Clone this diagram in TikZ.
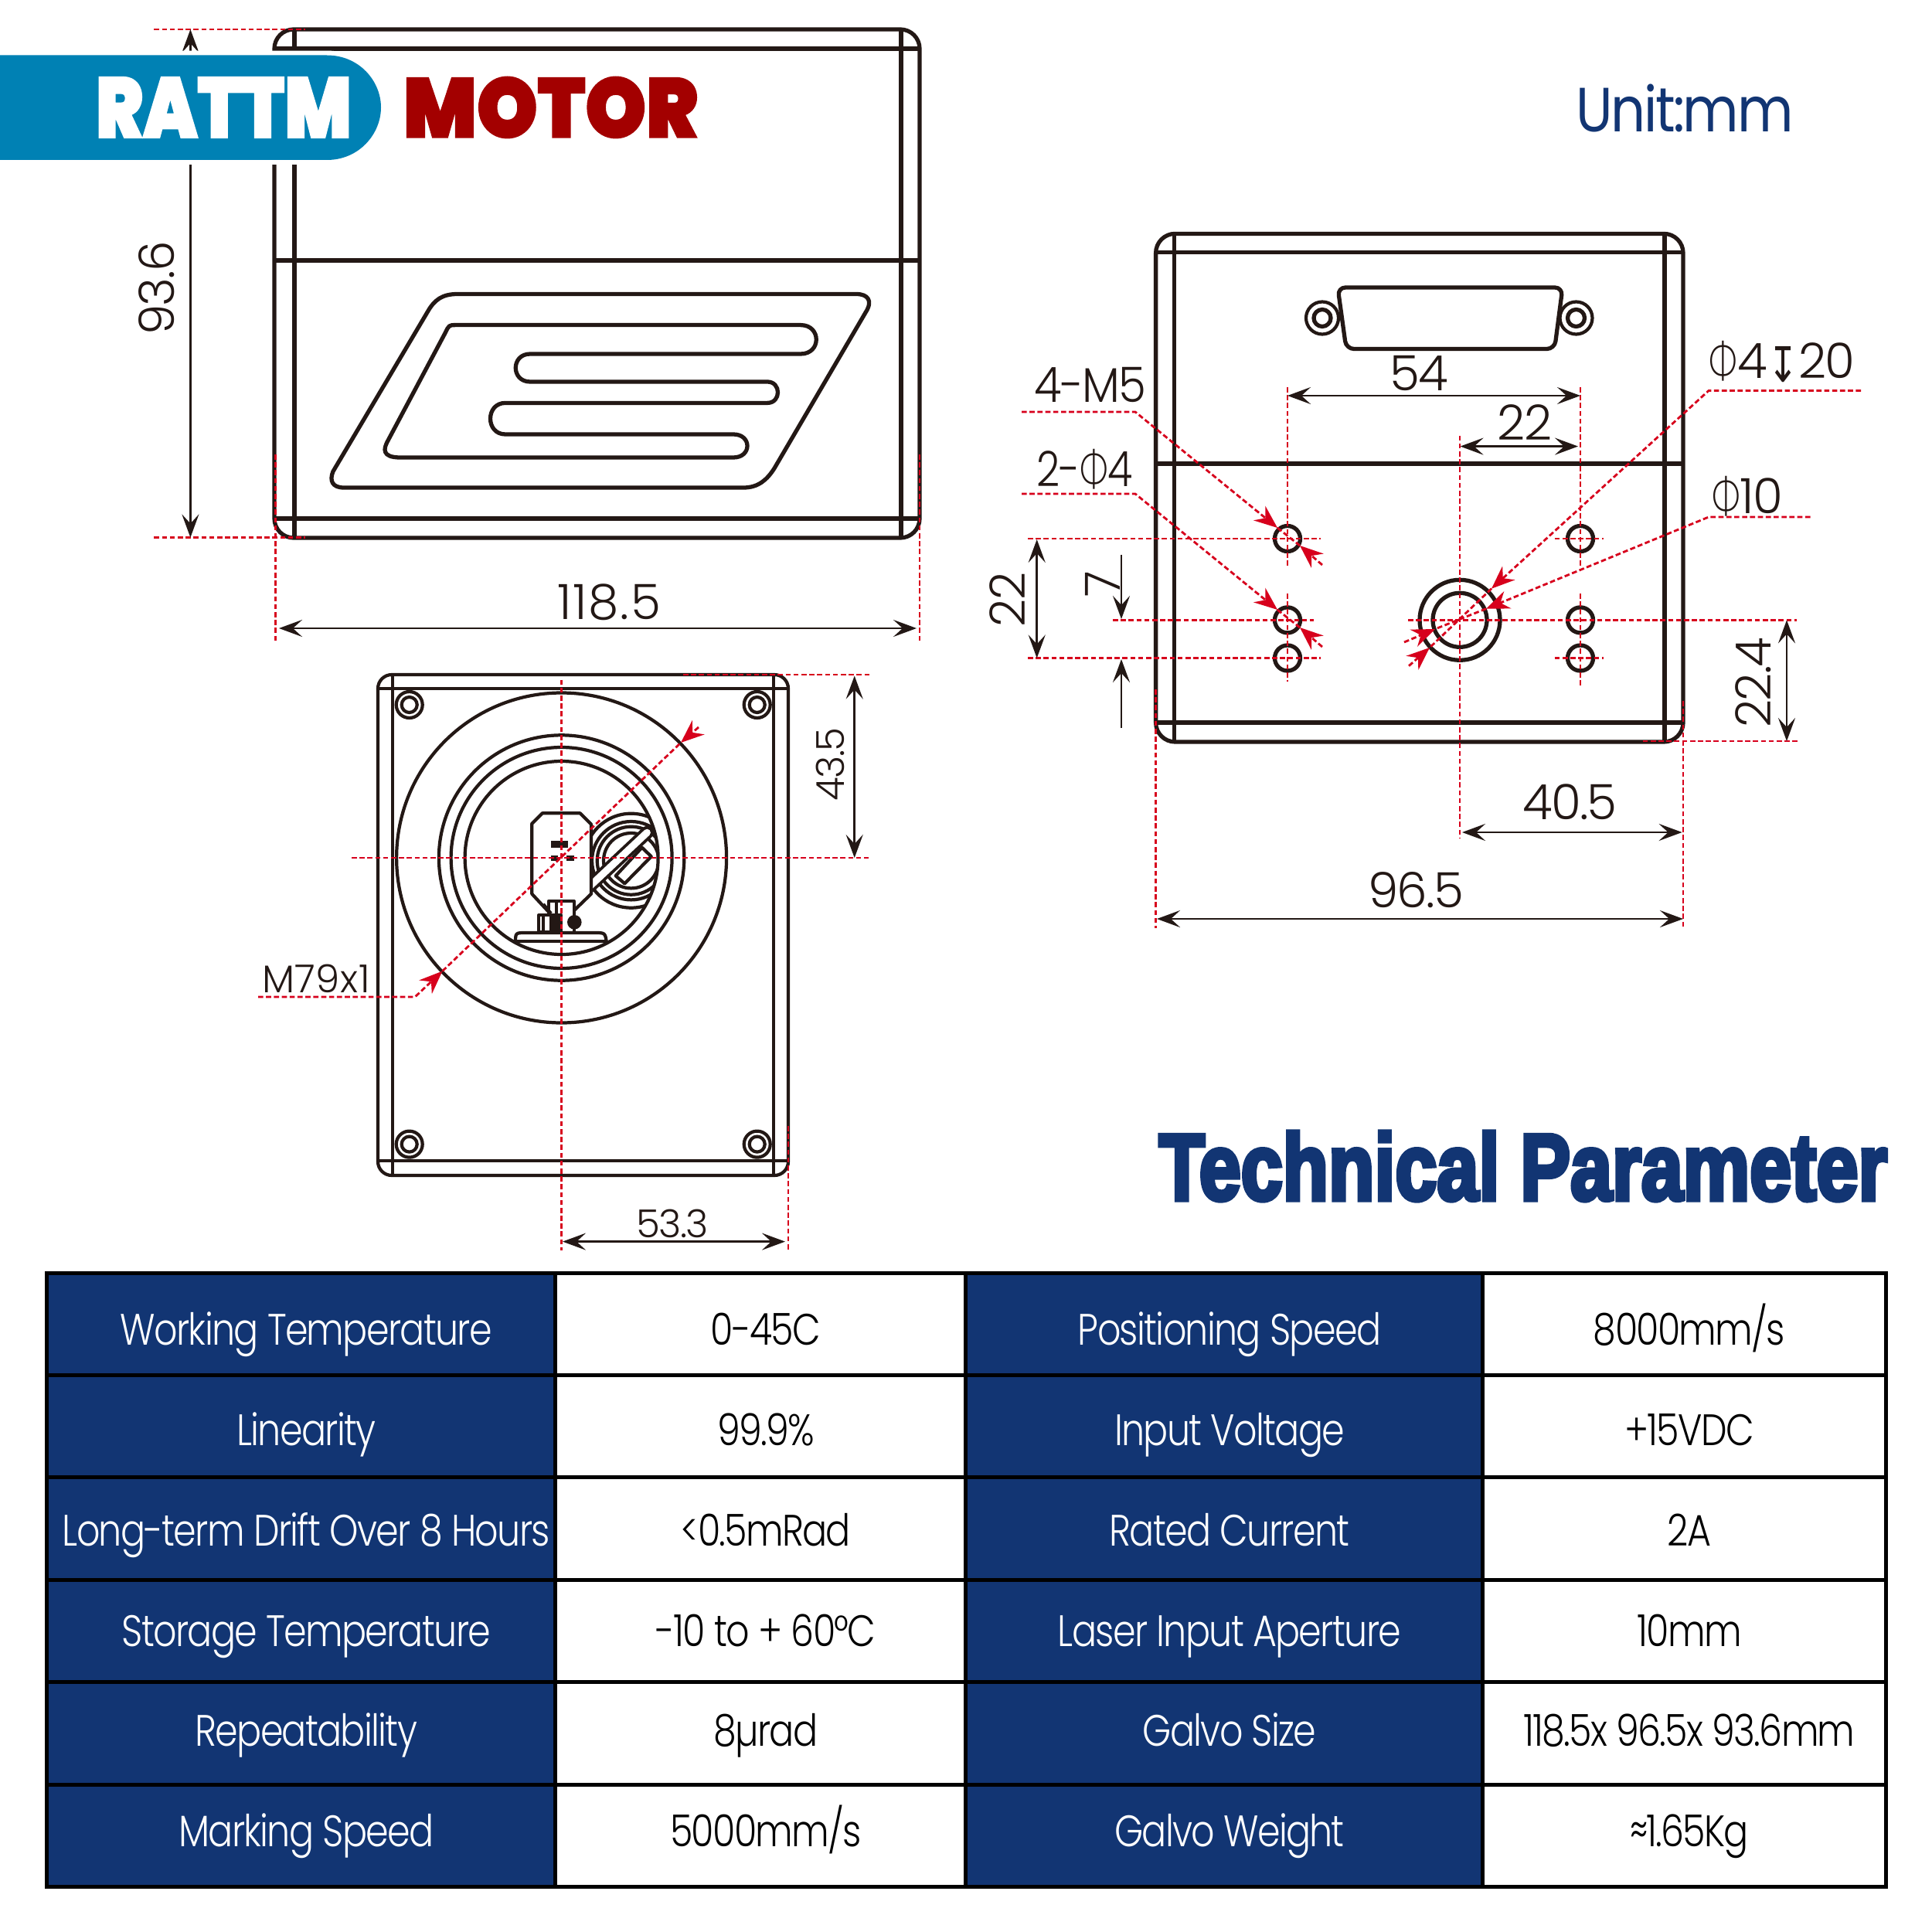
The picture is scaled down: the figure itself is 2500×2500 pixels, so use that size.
\documentclass[tikz,border=0pt]{standalone}
\usepackage{fontspec}
\usepackage{graphicx}
\usetikzlibrary{arrows.meta}
\newfontfamily\bodyfont[LetterSpace=-3,FakeStretch=0.835]{Poppins Light}
\newfontfamily\labelfont[LetterSpace=-3,FakeStretch=0.92]{Poppins Light}
\newfontfamily\dimfont[LetterSpace=-3]{Poppins Light}
\newfontfamily\unitfont[LetterSpace=-3,FakeStretch=0.87]{Poppins}
\newfontfamily\phifont[FakeStretch=0.72]{Lato Light}
\newfontfamily\symfont{DejaVu Sans}
\newfontfamily\logofont[FakeBold=2]{Poppins Black}
\newfontfamily\titlefont[BoldFeatures={FakeBold=5}]{Liberation Sans}
\definecolor{inkline}{HTML}{231815}
\definecolor{cutred}{HTML}{D7001C}
\definecolor{navycell}{HTML}{123573}
\definecolor{logoblue}{HTML}{0081B4}
\definecolor{logomaroon}{HTML}{A30000}
\begin{document}
\begin{tikzpicture}[
    x=0.01cm, y=-0.01cm,
    % Style for the housing outlines
    outline/.style={draw=inkline, line width=1.5pt, line join=round},
    lensline/.style={draw=inkline, line width=1.2pt, line join=round},
    % Style for the dimension arrows and the red centre lines
    dimline/.style={draw=inkline, line width=0.8pt, {Stealth[length=0.3cm,width=0.22cm,inset=0.12cm]}-{Stealth[length=0.3cm,width=0.22cm,inset=0.12cm]}},
    dimstop/.style={draw=inkline, line width=0.8pt, -{Stealth[length=0.3cm,width=0.22cm,inset=0.12cm]}},
    cutline/.style={draw=cutred, line width=0.8pt, dash pattern=on 1.9pt off 1pt},
    cutstop/.style={cutline, -{Stealth[length=0.3cm,width=0.24cm,inset=0.1cm]}},
    % Style for the texts
    dimtext/.style={inner sep=0pt, text=inkline, font=\dimfont\fontsize{17.9}{20}\selectfont},
    dimsmall/.style={inner sep=0pt, text=inkline, font=\dimfont\fontsize{14.2}{16}\selectfont},
    % Style for the table
    tablecell/.style={draw=black, line width=1.4pt, inner sep=0pt, outer sep=0pt, minimum height=1.325cm,
        text depth=0pt, font=\bodyfont\fontsize{16.2}{18}\selectfont,
        execute at begin node={\kern0.13cm}},
    headcell/.style={tablecell, fill=navycell, text=white},
    valuecell/.style={tablecell, fill=white, text=black},
    colA/.style={minimum width=6.585cm},
    colB/.style={minimum width=5.31cm},
    colC/.style={minimum width=6.69cm},
    colD/.style={minimum width=5.21cm},
    rowA/.style={text height=0.53cm},
    rowB/.style={text height=0.49cm},
    rowC/.style={text height=0.44cm},
    rowD/.style={text height=0.39cm},
    rowE/.style={text height=0.332cm},
    rowF/.style={text height=0.28cm}
]
    \useasboundingbox (0,0) rectangle (2500,2500);
    \fill[white] (0,0) rectangle (2500,2500);

    % --- 1. Front view ---
    \draw[outline, rounded corners=0.25cm] (355,38) rectangle (1190,696);
    \draw[outline] (381,38) -- (381,696);
    \draw[outline] (1166,38) -- (1166,696);
    \draw[outline] (355,63) -- (1190,63);
    \draw[outline] (355,337) -- (1190,337);
    \draw[outline] (355,671) -- (1190,671);
    % Emblem
    \draw[outline] (592,380.5) -- (1108,380.5) .. controls (1124,380.5) and (1128,390) .. (1122,401) -- (1002,606)
        .. controls (993,620) and (982,631) .. (962,631) -- (445,631) .. controls (430,631) and (426,622) .. (431,610)
        -- (553,404) .. controls (562,388) and (572,380.5) .. (592,380.5) -- cycle;
    \draw[outline] (590,420.6) -- (1036,420.6) .. controls (1063,420.6) and (1063,458) .. (1036,458)
        -- (686,458) .. controls (661,458) and (661,494) .. (686,494)
        -- (993,494) .. controls (1011,494) and (1011,521.4) .. (993,521.4)
        -- (654,521.4) .. controls (628,521.4) and (628,562) .. (654,562)
        -- (949,562) .. controls (973,562) and (973,592) .. (949,592)
        -- (518,592) .. controls (493,592) and (497,580) .. (501,572)
        -- (576,431) .. controls (581,420.6) .. (590,420.6) -- cycle;

    \coordinate (fronttop) at (246.4,38);
    \coordinate (frontbtm) at (246.4,695.5);
    \coordinate (frontleft) at (361,813);
    \coordinate (frontright) at (1186,813);
    \draw[cutline] (199.4,38) -- (394.7,38);
    \draw[cutline] (199.4,695.5) -- (394.7,695.5);
    \draw[cutline] (356.5,588) -- (356.5,832);
    \draw[cutline] (1190,588) -- (1190,832);
    \draw[dimline] (fronttop) -- (frontbtm);
    \draw[dimline] (frontleft) -- (frontright);
    \node[dimtext, rotate=90] (height label) at (202.5,373) {93.6};
    \node[dimtext] (width label) at (788,779.4) {\addfontfeature{LetterSpace=3}118.5};

    % --- 2. Logo ---
    \fill[logoblue, preaction={draw=white, line width=3.4pt}] (-20,71.5) -- (423,71.5)
        .. controls (465,71.5) and (493,105) .. (493,139) .. controls (493,173) and (465,207) .. (423,207)
        -- (-20,207) -- cycle;
    \node[inner sep=0pt, text=white] (rattm) at (289.5,139) {\resizebox{3.31cm}{0.78cm}{\logofont RATTM}};
    \node[inner sep=0pt, text=logomaroon] (motor) at (712.5,139) {\resizebox{3.81cm}{0.78cm}{\logofont MOTOR}};

    % --- 3. Unit and title ---
    \node[inner sep=0pt, text=navycell, font=\unitfont\fontsize{23}{26}\selectfont] (unit) at (2180,140) {Unit:mm};
    \node[inner sep=0pt, text=navycell] (title) at (1971,1509) {\resizebox{9.42cm}{0.88cm}{\titlefont\bfseries Technical Parameter}};

    % --- 4. Rear view ---
    \draw[outline, rounded corners=0.25cm] (1495.6,302.4) rectangle (2178,960);
    \draw[outline] (1519.5,302.4) -- (1519.5,960);
    \draw[outline] (2154,302.4) -- (2154,960);
    \draw[outline] (1495.6,326.7) -- (2178,326.7);
    \draw[outline] (1495.6,600) -- (2178,600);
    \draw[outline] (1495.6,935) -- (2178,935);
    % Connector and its screws
    \foreach \sx in {1711,2039.5} {
        \draw[lensline] (\sx,411.5) circle[radius=21];
        \draw[outline] (\sx,411.5) circle[radius=11];
    }
    \draw[outline, fill=white, rounded corners=0.1cm] (1731,372) -- (2022,372) -- (2011.6,451.5) -- (1742,451.5) -- cycle;
    % Holes
    \foreach \hx in {1666,2045} {
        \draw[outline] (\hx,697) circle[radius=16.5];
        \draw[outline] (\hx,802.4) circle[radius=16.5];
        \draw[outline] (\hx,851.5) circle[radius=16.5];
    }
    \draw[outline] (1889,802.3) circle[radius=52];
    \draw[outline] (1889,802.3) circle[radius=35];

    % Centre lines
    \draw[cutline] (1666,501) -- (1666,731.5);
    \draw[cutline] (1666,768) -- (1666,882);
    \draw[cutline] (2045,501) -- (2045,731.5);
    \draw[cutline] (2045,768) -- (2045,889);
    \draw[cutline] (1889,563.6) -- (1889,1085);
    \draw[cutline] (1330,697) -- (1708.5,697);
    \draw[cutline] (2011.6,697) -- (2075,697);
    \draw[cutline] (1440,802.4) -- (1700,802.4);
    \draw[cutline] (1822,802.4) -- (2325,802.4);
    \draw[cutline] (1330,851.5) -- (1708.5,851.5);
    \draw[cutline] (2011.6,851.5) -- (2075,851.5);
    \draw[cutline] (2125.6,959) -- (2326.6,959);
    \draw[cutline] (1495.6,892) -- (1495.6,1201);
    \draw[cutline] (2178,907) -- (2178,1201);

    % Leaders
    \coordinate (mfive tip) at (1653,683);
    \coordinate (mfive end) at (1711,731);
    \coordinate (mfive back) at (1682,706);
    \coordinate (pfour tip) at (1653,789);
    \coordinate (pfour end) at (1711,837);
    \coordinate (pfour back) at (1682,812);
    \coordinate (depth tip) at (1930,761.7);
    \coordinate (depth end) at (1823,861.7);
    \coordinate (depth back) at (1850,838);
    \coordinate (bore tip) at (1923,787.7);
    \coordinate (bore end) at (1817,831);
    \coordinate (bore back) at (1857,814);
    \draw[cutstop] (1322,533) -- (1469,533) -- (mfive tip);
    \draw[cutline] (mfive tip) -- (mfive back);
    \draw[cutstop] (mfive end) -- (mfive back);
    \draw[cutstop] (1322,639) -- (1469,639) -- (pfour tip);
    \draw[cutline] (pfour tip) -- (pfour back);
    \draw[cutstop] (pfour end) -- (pfour back);
    \draw[cutstop] (2408,505.5) -- (2211,505.5) -- (depth tip);
    \draw[cutline] (depth tip) -- (depth back);
    \draw[cutstop] (depth end) -- (depth back);
    \draw[cutstop] (2342.5,669) -- (2211,669) -- (bore tip);
    \draw[cutline] (bore tip) -- (bore back);
    \draw[cutstop] (bore end) -- (bore back);

    % Dimensions
    \coordinate (hole left) at (1666,512);
    \coordinate (hole right) at (2045,512);
    \coordinate (bore top) at (1889.5,577.6);
    \coordinate (bore right) at (2042,577.6);
    \coordinate (rear a) at (1341.7,698);
    \coordinate (rear b) at (1341.7,851.5);
    \coordinate (seven top) at (1451,717.6);
    \coordinate (seven tip) at (1451,801);
    \coordinate (seven btm) at (1451,942);
    \coordinate (seven low) at (1451,853);
    \coordinate (side top) at (2312,802.4);
    \coordinate (side btm) at (2312,959);
    \coordinate (bore low) at (1892,1077);
    \coordinate (edge low) at (2176.6,1077);
    \coordinate (rear left) at (1497,1189);
    \coordinate (rear right) at (2178,1189);
    \draw[dimline] (hole left) -- (hole right);
    \draw[dimline] (bore top) -- (bore right);
    \draw[dimline] (rear a) -- (rear b);
    \draw[dimstop] (seven top) -- (seven tip);
    \draw[dimstop] (seven btm) -- (seven low);
    \draw[dimline] (side top) -- (side btm);
    \draw[dimline] (bore low) -- (edge low);
    \draw[dimline] (rear left) -- (rear right);
    \node[dimtext] (fifty four) at (1836,483) {54};
    \node[dimtext] (twenty two) at (1973,547) {22};
    \node[dimtext, rotate=90] (rear span) at (1304,776) {22};
    \node[dimtext, rotate=90] (seven) at (1427,756) {7};
    \node[dimtext, rotate=90] (side span) at (2269,883) {22.4};
    \node[dimtext] (bore span) at (2031.5,1037.6) {40.5};
    \node[dimtext] (rear width) at (1832,1151.5) {96.5};
    \node[dimtext] (mfive label) at (1411,498) {\labelfont 4-M5};
    \node[dimtext] (pfour label) at (1404,607) {\bodyfont 2-{\phifont Φ}4};
    \node[dimtext] (depth label) at (2306,468) {{\phifont Φ}4\raisebox{-0.05cm}{\resizebox{0.4cm}{0.46cm}{\symfont ↧}}20};
    \node[dimtext] (bore label) at (2261,642) {{\phifont Φ}10};

    % --- 5. Lens view ---
    \draw[lensline, rounded corners=0.18cm] (489,873) rectangle (1020,1521);
    \draw[lensline] (507.8,873) -- (507.8,1521);
    \draw[lensline] (1001,873) -- (1001,1521);
    \draw[lensline] (489,891) -- (1020,891);
    \draw[lensline] (489,1502) -- (1020,1502);
    \foreach \sx/\sy in {529.7/912, 979.7/912, 529.7/1480.6, 979.7/1480.6} {
        \draw[lensline] (\sx,\sy) circle[radius=17];
        \draw[lensline] (\sx,\sy) circle[radius=10];
    }
    \coordinate (lens) at (726.6,1110);
    \foreach \lr in {213.5,158.7,143,125} {
        \draw[lensline] (lens) circle[radius=\lr];
    }
    % Mirror parts seen through the lens
    \begin{scope}
        \clip (lens) circle[radius=125];
        \draw[lensline] (816.7,1113.7) circle[radius=61];
        \draw[lensline] (816.7,1113.7) circle[radius=50.7];
        \draw[lensline] (816.7,1113.7) circle[radius=44];
        \draw[lensline] (816.7,1113.7) circle[radius=35.7];
        \draw[lensline, fill=white] (796.7,1133.3) -- (808.3,1143.3) -- (842.7,1108.3) -- (830.7,1096.7) -- cycle;
        \draw[inkline, line width=4.8pt, line cap=round] (763.3,1146.7) -- (837.3,1077.3);
        \draw[white, line width=2.6pt, line cap=round] (763.3,1146.7) -- (837.3,1077.3);
        \draw[lensline, fill=white] (710,1180) -- (688.3,1156.7) -- (688.3,1065.7) -- (701.7,1052.3) -- (750.7,1052.3)
            -- (765,1066.7) -- (765,1156.7) -- (742.7,1178.3);
        \draw[lensline] (710,1182) -- (710,1166) -- (742.7,1166) -- (742.7,1182);
        \draw[lensline] (720,1166) -- (720,1183);
        \draw[lensline] (703,1170) -- (713,1182);
        \fill[inkline] (713.3,1087.7) rectangle (735,1097.3);
        \fill[inkline] (713.3,1107.3) rectangle (721.7,1113.7);
        \fill[inkline] (733.3,1107.3) rectangle (743.3,1113.7);
        \fill[inkline] (710.7,1184) rectangle (726,1206);
        \draw[lensline] (697.3,1184) rectangle (726,1206);
        \draw[lensline] (702.7,1184) -- (702.7,1206);
        \draw[lensline] (743.3,1176) -- (743.3,1207);
        \fill[inkline] (743.3,1193.3) circle[radius=9.3];
        \draw[lensline] (667,1220) .. controls (667,1207) .. (680,1207) -- (770,1207) .. controls (783,1207) .. (785,1220);
        \draw[lensline] (667,1218.3) -- (785,1218.3);
    \end{scope}

    \coordinate (thread tip) at (572.5,1256.6);
    \coordinate (thread end) at (904,941);
    \coordinate (thread back) at (881,961);
    \draw[cutline] (726.6,879.6) -- (726.6,1618);
    \draw[cutline] (455,1110) -- (1124,1110);
    \draw[cutline] (884,873) -- (1125,873);
    \draw[cutline] (1020,1457) -- (1020,1618);
    \draw[cutstop] (334,1290) -- (537,1290) -- (thread tip);
    \draw[cutline] (thread tip) -- (thread back);
    \draw[cutstop] (thread end) -- (thread back);

    \coordinate (lens low) at (728,1606.6);
    \coordinate (edge right) at (1016,1606.6);
    \coordinate (lens top) at (1105.7,874.5);
    \coordinate (lens mid) at (1105.7,1110);
    \draw[dimline] (lens low) -- (edge right);
    \draw[dimline] (lens top) -- (lens mid);
    \node[dimsmall] (thread label) at (409,1266) {\addfontfeature{LetterSpace=1}M79x1};
    \node[dimsmall] (offset label) at (870,1583.7) {53.3};
    \node[dimsmall, rotate=90] (lens label) at (1074,989) {43.5};

    % --- 6. Parameter table ---
    \node[headcell, colA, rowA] (working) at (389.8,1713.5) {Working Temperature};
    \node[valuecell, colB, rowA] (working value) at (984.5,1713.5) {0-45C};
    \node[headcell, colC, rowA] (positioning) at (1584.5,1713.5) {Positioning Speed};
    \node[valuecell, colD, rowA] (positioning value) at (2179.5,1713.5) {8000mm/s};

    \node[headcell, colA, rowB] (linearity) at (389.8,1845.5) {Linearity};
    \node[valuecell, colB, rowB] (linearity value) at (984.5,1845.5) {99.9\%};
    \node[headcell, colC, rowB] (voltage) at (1584.5,1845.5) {Input Voltage};
    \node[valuecell, colD, rowB] (voltage value) at (2179.5,1845.5) {+15VDC};

    \node[headcell, colA, rowC] (drift) at (389.8,1978) {Long-term Drift Over 8 Hours};
    \node[valuecell, colB, rowC] (drift value) at (984.5,1978) {<0.5mRad};
    \node[headcell, colC, rowC] (current) at (1584.5,1978) {Rated Current};
    \node[valuecell, colD, rowC] (current value) at (2179.5,1978) {2A};

    \node[headcell, colA, rowD] (storage) at (389.8,2110.5) {Storage Temperature};
    \node[valuecell, colB, rowD] (storage value) at (984.5,2110.5) {-10 to + 60°C};
    \node[headcell, colC, rowD] (aperture) at (1584.5,2110.5) {Laser Input Aperture};
    \node[valuecell, colD, rowD] (aperture value) at (2179.5,2110.5) {10mm};

    \node[headcell, colA, rowE] (repeat) at (389.8,2243) {Repeatability};
    \node[valuecell, colB, rowE] (repeat value) at (984.5,2243) {8µrad};
    \node[headcell, colC, rowE] (size) at (1584.5,2243) {Galvo Size};
    \node[valuecell, colD, rowE] (size value) at (2179.5,2243) {118.5x 96.5x 93.6mm};

    \node[headcell, colA, rowF] (marking) at (389.8,2375.5) {Marking Speed};
    \node[valuecell, colB, rowF] (marking value) at (984.5,2375.5) {5000mm/s};
    \node[headcell, colC, rowF] (weight) at (1584.5,2375.5) {Galvo Weight};
    \node[valuecell, colD, rowF] (weight value) at (2179.5,2375.5) {≈1.65Kg};

\end{tikzpicture}
\end{document}
